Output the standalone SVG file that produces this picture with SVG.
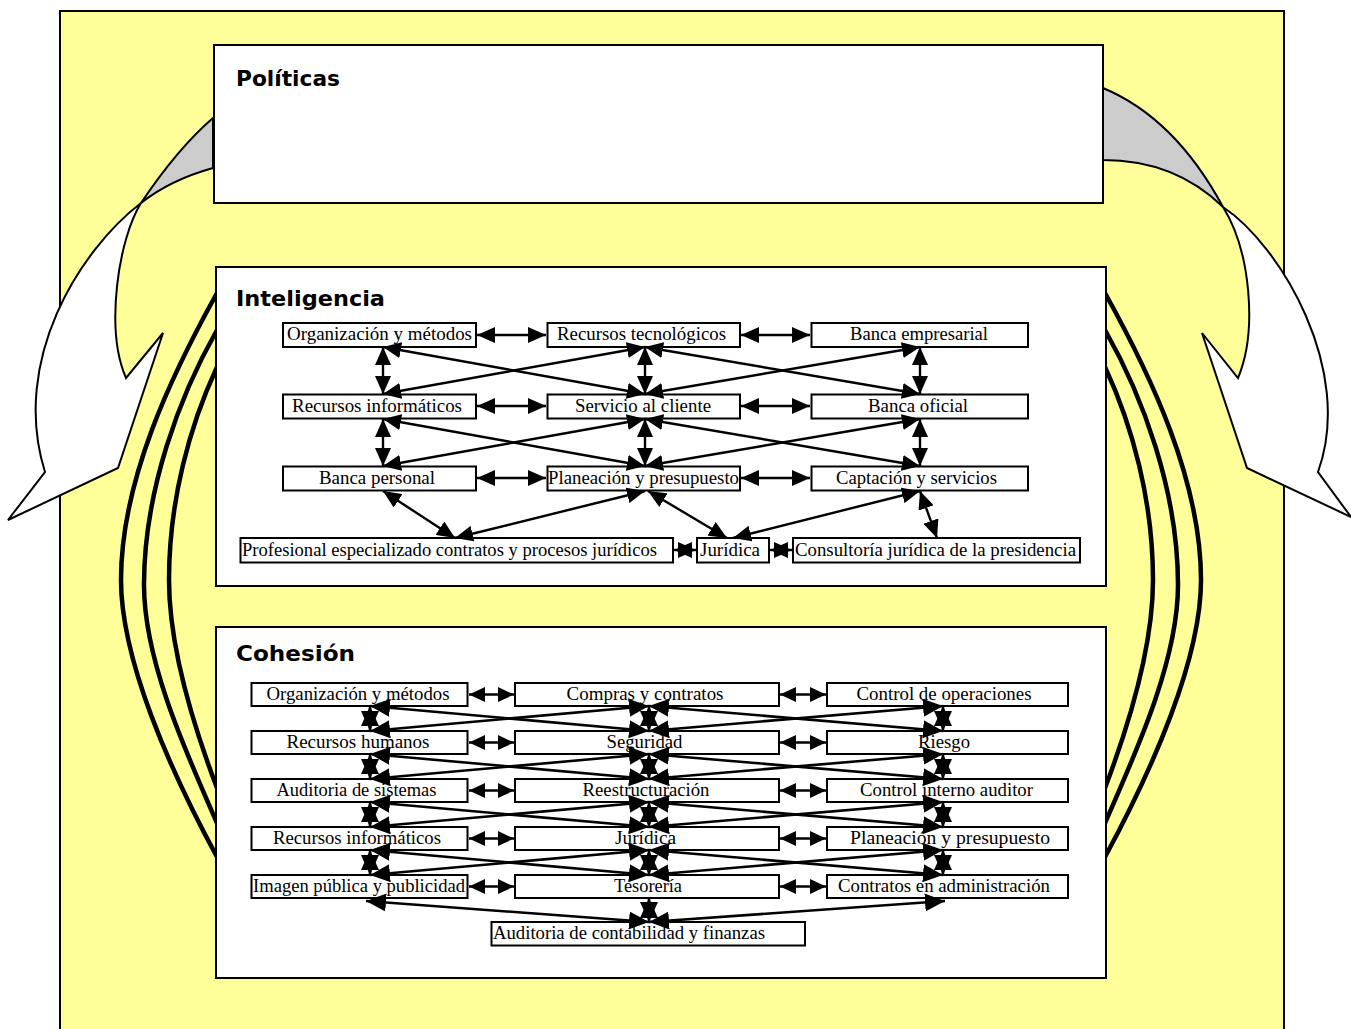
<svg xmlns="http://www.w3.org/2000/svg" xmlns:xlink="http://www.w3.org/1999/xlink" width="1351" height="1029" viewBox="0 0 1351 1029">
  <style>
    .frame{fill:#FFFF99;stroke:#000;stroke-width:2}
    .panel{fill:#fff;stroke:#000;stroke-width:2}
    .title{font-family:"DejaVu Sans",Verdana,sans-serif;font-weight:bold;font-size:21px;fill:#000}
    .node rect{fill:#fff;stroke:#000;stroke-width:2}
    .node text{font-family:"Liberation Serif","Times New Roman",serif;font-size:19.5px;fill:#000}
    .ribbon{fill:#fff;stroke:#000;stroke-width:2;stroke-linejoin:miter}
    .ribbon-back{fill:#CCCCCC;stroke:#000;stroke-width:2}
    .band{fill:none;stroke:#000;stroke-width:4.5}
    .li{stroke:#000;stroke-width:2.4;fill:none;marker-start:url(#ahI);marker-end:url(#ahI)}
    .lc{stroke:#000;stroke-width:2.6;fill:none;marker-start:url(#ahC);marker-end:url(#ahC)}
    .lh{stroke:#000;stroke-width:2.6;fill:none;marker-start:url(#ahH);marker-end:url(#ahH)}
  </style>
  <defs>
    <marker id="ahI" viewBox="0 0 18 16" refX="18" refY="8" markerWidth="18" markerHeight="16" markerUnits="userSpaceOnUse" orient="auto-start-reverse">
      <path d="M0,0 L18,8 L0,16 z" fill="#000"/>
    </marker>
    <marker id="ahC" viewBox="0 0 20 18" refX="20" refY="9" markerWidth="20" markerHeight="18" markerUnits="userSpaceOnUse" orient="auto-start-reverse">
      <path d="M0,0 L20,9 L0,18 z" fill="#000"/>
    </marker>
    <marker id="ahH" viewBox="0 0 16 15" refX="16" refY="7.5" markerWidth="16" markerHeight="15" markerUnits="userSpaceOnUse" orient="auto-start-reverse">
      <path d="M0,0 L16,7.5 L0,15 z" fill="#000"/>
    </marker>
  </defs>

  <!-- background frame -->
  <rect class="frame" x="60" y="11" width="1224" height="1030"/>

  <!-- curved feedback arrows (left and right) -->
  <g id="feedback-arrows">
    <path class="ribbon-back" d="M213,118 Q178,148 141,203 Q170,180 213,168 Z"/>
    <path class="ribbon" d="M141,203 C80,250 10,360 45,472 L8,520 L118,468 L163,333 L126,378 C105,330 118,240 141,203 Z"/>
    <path class="ribbon-back" d="M1103,88 Q1175,118 1223,207 Q1175,160 1103,160 Z"/>
    <path class="ribbon" d="M1223,207 C1280,245 1355,370 1318,472 L1351,517 L1247,468 L1202,333 L1238,378 C1258,330 1250,250 1223,207 Z"/>
  </g>

  <!-- thick bands linking the two lower panels -->
  <g id="bands">
    <path id="band-outer" class="band" d="M217,293 C172,374 121,480 121,580 C121,660 170,770 217,857"/>
    <path id="band-mid" class="band" d="M217,330 C180,395 144,490 144,585 C144,660 185,750 217,823"/>
    <path id="band-inner" class="band" d="M217,367 C190,425 169,500 169,580 C169,650 195,730 217,788"/>
    <g transform="matrix(-1,0,0,1,1322,0)">
      <use xlink:href="#band-outer" href="#band-outer"/>
      <use xlink:href="#band-mid" href="#band-mid"/>
      <use xlink:href="#band-inner" href="#band-inner"/>
    </g>
  </g>

  <!-- panels -->
  <g id="politicas">
    <rect class="panel" x="214" y="45" width="889" height="158"/>
    <text class="title" x="236" y="86" textLength="104" lengthAdjust="spacingAndGlyphs">Políticas</text>
  </g>
  <g id="inteligencia">
    <rect class="panel" x="216" y="267" width="890" height="319"/>
    <text class="title" x="236" y="306" textLength="149" lengthAdjust="spacingAndGlyphs">Inteligencia</text>
  </g>
  <g id="cohesion">
    <rect class="panel" x="216" y="627" width="890" height="351"/>
    <text class="title" x="236" y="661" textLength="119" lengthAdjust="spacingAndGlyphs">Cohesión</text>
  </g>

  <!-- Inteligencia nodes -->
  <g id="i-organizacion" class="node"><rect x="283" y="323" width="193" height="24"/><text x="287" y="340" textLength="185" lengthAdjust="spacingAndGlyphs">Organización y métodos</text></g>
  <g id="i-recursos-tecnologicos" class="node"><rect x="547.5" y="323" width="192.5" height="24"/><text x="557" y="340" textLength="169" lengthAdjust="spacingAndGlyphs">Recursos tecnológicos</text></g>
  <g id="i-banca-empresarial" class="node"><rect x="811.5" y="323" width="216.5" height="24"/><text x="850" y="340" textLength="138" lengthAdjust="spacingAndGlyphs">Banca empresarial</text></g>
  <g id="i-recursos-informaticos" class="node"><rect x="283" y="394.5" width="193" height="24"/><text x="292" y="411.5" textLength="170" lengthAdjust="spacingAndGlyphs">Recursos informáticos</text></g>
  <g id="i-servicio-cliente" class="node"><rect x="547.5" y="394.5" width="192.5" height="24"/><text x="575" y="411.5" textLength="136" lengthAdjust="spacingAndGlyphs">Servicio al cliente</text></g>
  <g id="i-banca-oficial" class="node"><rect x="811.5" y="394.5" width="216.5" height="24"/><text x="868" y="411.5" textLength="100" lengthAdjust="spacingAndGlyphs">Banca oficial</text></g>
  <g id="i-banca-personal" class="node"><rect x="283" y="466.5" width="193" height="24"/><text x="319" y="483.5" textLength="116" lengthAdjust="spacingAndGlyphs">Banca personal</text></g>
  <g id="i-planeacion" class="node"><rect x="547.5" y="466.5" width="192.5" height="24"/><text x="548" y="483.5" textLength="191" lengthAdjust="spacingAndGlyphs">Planeación y presupuesto</text></g>
  <g id="i-captacion" class="node"><rect x="811.5" y="466.5" width="216.5" height="24"/><text x="836" y="483.5" textLength="161" lengthAdjust="spacingAndGlyphs">Captación y servicios</text></g>
  <g id="i-profesional" class="node"><rect x="240.5" y="538" width="432.5" height="24.5"/><text x="242" y="555.5" textLength="415" lengthAdjust="spacingAndGlyphs">Profesional especializado contratos y procesos jurídicos</text></g>
  <g id="i-juridica" class="node"><rect x="697" y="538" width="72" height="24.5"/><text x="700" y="555.5" textLength="60" lengthAdjust="spacingAndGlyphs">Jurídica</text></g>
  <g id="i-consultoria" class="node"><rect x="793" y="538" width="287" height="24.5"/><text x="795" y="555.5" textLength="281" lengthAdjust="spacingAndGlyphs">Consultoría jurídica de la presidencia</text></g>

  <!-- Cohesión nodes -->
  <g id="c-organizacion" class="node"><rect x="251.5" y="683" width="216" height="23"/><text x="266.5" y="700" textLength="183" lengthAdjust="spacingAndGlyphs">Organización y métodos</text></g>
  <g id="c-compras" class="node"><rect x="515" y="683" width="264" height="23"/><text x="566.5" y="700" textLength="157" lengthAdjust="spacingAndGlyphs">Compras y contratos</text></g>
  <g id="c-control-operaciones" class="node"><rect x="827" y="683" width="241" height="23"/><text x="856.5" y="700" textLength="175" lengthAdjust="spacingAndGlyphs">Control de operaciones</text></g>
  <g id="c-recursos-humanos" class="node"><rect x="251.5" y="731" width="216" height="23"/><text x="286.5" y="748" textLength="143" lengthAdjust="spacingAndGlyphs">Recursos humanos</text></g>
  <g id="c-seguridad" class="node"><rect x="515" y="731" width="264" height="23"/><text x="606.5" y="748" textLength="76" lengthAdjust="spacingAndGlyphs">Seguridad</text></g>
  <g id="c-riesgo" class="node"><rect x="827" y="731" width="241" height="23"/><text x="918" y="748" textLength="52" lengthAdjust="spacingAndGlyphs">Riesgo</text></g>
  <g id="c-auditoria-sistemas" class="node"><rect x="251.5" y="779" width="216" height="23"/><text x="276.5" y="796" textLength="160" lengthAdjust="spacingAndGlyphs">Auditoria de sistemas</text></g>
  <g id="c-reestructuracion" class="node"><rect x="515" y="779" width="264" height="23"/><text x="582.5" y="796" textLength="127" lengthAdjust="spacingAndGlyphs">Reestructuración</text></g>
  <g id="c-control-interno" class="node"><rect x="827" y="779" width="241" height="23"/><text x="860" y="796" textLength="173" lengthAdjust="spacingAndGlyphs">Control interno auditor</text></g>
  <g id="c-recursos-informaticos" class="node"><rect x="251.5" y="827" width="216" height="23"/><text x="273" y="844" textLength="168" lengthAdjust="spacingAndGlyphs">Recursos informáticos</text></g>
  <g id="c-juridica" class="node"><rect x="515" y="827" width="264" height="23"/><text x="615" y="844" textLength="61" lengthAdjust="spacingAndGlyphs">Jurídica</text></g>
  <g id="c-planeacion" class="node"><rect x="827" y="827" width="241" height="23"/><text x="850" y="844" textLength="200" lengthAdjust="spacingAndGlyphs">Planeación y presupuesto</text></g>
  <g id="c-imagen" class="node"><rect x="251.5" y="875" width="216" height="23"/><text x="253" y="892" textLength="212" lengthAdjust="spacingAndGlyphs">Imagen pública y publicidad</text></g>
  <g id="c-tesoreria" class="node"><rect x="515" y="875" width="264" height="23"/><text x="614" y="892" textLength="68" lengthAdjust="spacingAndGlyphs">Tesorería</text></g>
  <g id="c-contratos" class="node"><rect x="827" y="875" width="241" height="23"/><text x="838" y="892" textLength="212" lengthAdjust="spacingAndGlyphs">Contratos en administración</text></g>
  <g id="c-auditoria-contabilidad" class="node"><rect x="491.5" y="922" width="313.5" height="23.5"/><text x="493" y="939" textLength="272" lengthAdjust="spacingAndGlyphs">Auditoria de contabilidad y finanzas</text></g>

  <!-- connectors, drawn over the node boxes -->
  <g id="connectors">
    <!-- Inteligencia: horizontal -->
    <line class="li" x1="477" y1="335" x2="546" y2="335"/>
    <line class="li" x1="741" y1="335" x2="810" y2="335"/>
    <line class="li" x1="477" y1="406" x2="546" y2="406"/>
    <line class="li" x1="741" y1="406" x2="810" y2="406"/>
    <line class="li" x1="477" y1="478" x2="546" y2="478"/>
    <line class="li" x1="741" y1="478" x2="810" y2="478"/>
    <!-- Inteligencia: rows 1-2 -->
    <line class="li" x1="383" y1="347" x2="383" y2="394"/>
    <line class="li" x1="645" y1="347" x2="645" y2="394"/>
    <line class="li" x1="920" y1="347" x2="920" y2="394"/>
    <line class="li" x1="383" y1="347" x2="645" y2="394"/>
    <line class="li" x1="383" y1="394" x2="645" y2="347"/>
    <line class="li" x1="645" y1="347" x2="920" y2="394"/>
    <line class="li" x1="645" y1="394" x2="920" y2="347"/>
    <!-- Inteligencia: rows 2-3 -->
    <line class="li" x1="383" y1="419" x2="383" y2="466"/>
    <line class="li" x1="645" y1="419" x2="645" y2="466"/>
    <line class="li" x1="920" y1="419" x2="920" y2="466"/>
    <line class="li" x1="383" y1="419" x2="645" y2="466"/>
    <line class="li" x1="383" y1="466" x2="645" y2="419"/>
    <line class="li" x1="645" y1="419" x2="920" y2="466"/>
    <line class="li" x1="645" y1="466" x2="920" y2="419"/>
    <!-- Inteligencia: rows 3-4 -->
    <line class="li" x1="383" y1="491" x2="455" y2="538"/>
    <line class="li" x1="645" y1="491" x2="455" y2="538"/>
    <line class="li" x1="648" y1="491" x2="727" y2="538"/>
    <line class="li" x1="920" y1="491" x2="733" y2="538"/>
    <line class="li" x1="920" y1="491" x2="937" y2="538"/>
    <line class="li" x1="674" y1="550" x2="696" y2="550"/>
    <line class="li" x1="770" y1="550" x2="792" y2="550"/>

    <!-- Cohesión: horizontal -->
    <line class="lh" x1="469" y1="694.5" x2="514" y2="694.5"/>
    <line class="lh" x1="780" y1="694.5" x2="826" y2="694.5"/>
    <line class="lh" x1="469" y1="742.5" x2="514" y2="742.5"/>
    <line class="lh" x1="780" y1="742.5" x2="826" y2="742.5"/>
    <line class="lh" x1="469" y1="790.5" x2="514" y2="790.5"/>
    <line class="lh" x1="780" y1="790.5" x2="826" y2="790.5"/>
    <line class="lh" x1="469" y1="838.5" x2="514" y2="838.5"/>
    <line class="lh" x1="780" y1="838.5" x2="826" y2="838.5"/>
    <line class="lh" x1="469" y1="886.5" x2="514" y2="886.5"/>
    <line class="lh" x1="780" y1="886.5" x2="826" y2="886.5"/>
    <!-- Cohesión: rows 1-2 -->
    <line class="lc" x1="370" y1="706" x2="370" y2="731"/>
    <line class="lc" x1="649" y1="706" x2="649" y2="731"/>
    <line class="lc" x1="943" y1="706" x2="943" y2="731"/>
    <line class="lc" x1="370" y1="706" x2="649" y2="731"/>
    <line class="lc" x1="370" y1="731" x2="649" y2="706"/>
    <line class="lc" x1="649" y1="706" x2="943" y2="731"/>
    <line class="lc" x1="649" y1="731" x2="943" y2="706"/>
    <!-- Cohesión: rows 2-3 -->
    <line class="lc" x1="370" y1="754" x2="370" y2="779"/>
    <line class="lc" x1="649" y1="754" x2="649" y2="779"/>
    <line class="lc" x1="943" y1="754" x2="943" y2="779"/>
    <line class="lc" x1="370" y1="754" x2="649" y2="779"/>
    <line class="lc" x1="370" y1="779" x2="649" y2="754"/>
    <line class="lc" x1="649" y1="754" x2="943" y2="779"/>
    <line class="lc" x1="649" y1="779" x2="943" y2="754"/>
    <!-- Cohesión: rows 3-4 -->
    <line class="lc" x1="370" y1="802" x2="370" y2="827"/>
    <line class="lc" x1="649" y1="802" x2="649" y2="827"/>
    <line class="lc" x1="943" y1="802" x2="943" y2="827"/>
    <line class="lc" x1="370" y1="802" x2="649" y2="827"/>
    <line class="lc" x1="370" y1="827" x2="649" y2="802"/>
    <line class="lc" x1="649" y1="802" x2="943" y2="827"/>
    <line class="lc" x1="649" y1="827" x2="943" y2="802"/>
    <!-- Cohesión: rows 4-5 -->
    <line class="lc" x1="370" y1="850" x2="370" y2="875"/>
    <line class="lc" x1="649" y1="850" x2="649" y2="875"/>
    <line class="lc" x1="943" y1="850" x2="943" y2="875"/>
    <line class="lc" x1="370" y1="850" x2="649" y2="875"/>
    <line class="lc" x1="370" y1="875" x2="649" y2="850"/>
    <line class="lc" x1="649" y1="850" x2="943" y2="875"/>
    <line class="lc" x1="649" y1="875" x2="943" y2="850"/>
    <!-- Cohesión: row 5 to bottom -->
    <line class="lc" x1="366" y1="901" x2="649" y2="922"/>
    <line class="lc" x1="649" y1="922" x2="945" y2="901"/>
    <line class="lc" x1="649" y1="898" x2="649" y2="922"/>
  </g>
</svg>
